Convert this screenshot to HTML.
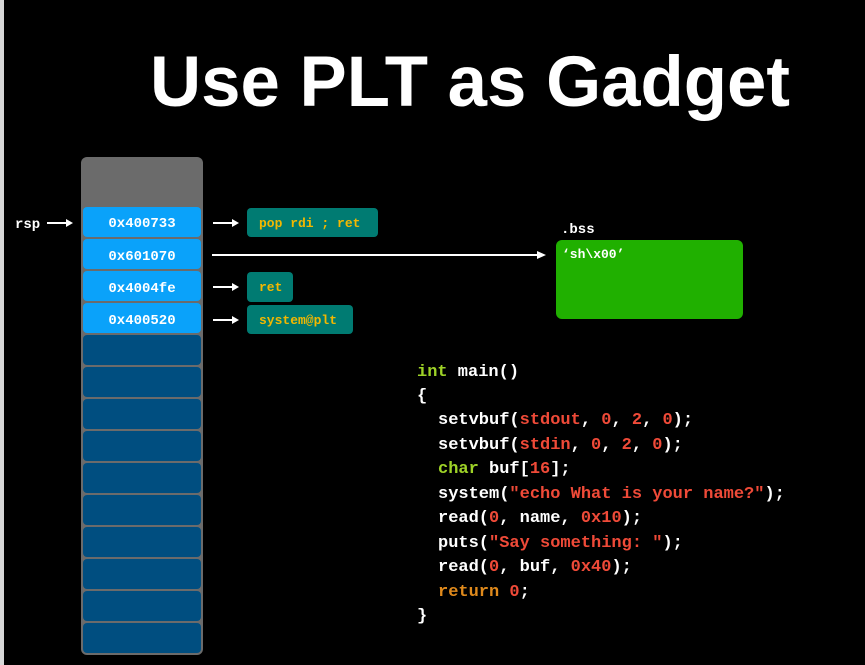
<!DOCTYPE html>
<html><head><meta charset="utf-8"><style>
html,body{margin:0;padding:0;background:#000;}
svg{display:block}
.m{font-family:"Liberation Mono","DejaVu Sans Mono",monospace;font-weight:bold}
</style></head><body>
<svg width="865" height="665" viewBox="0 0 865 665" xmlns="http://www.w3.org/2000/svg">
<rect width="865" height="665" fill="#000"/>
<rect x="0" y="0" width="4" height="665" fill="#d8d8d8"/>
<text x="150" y="106" font-family="Liberation Sans, sans-serif" font-weight="bold" font-size="71" fill="#fff" textLength="640" lengthAdjust="spacingAndGlyphs">Use PLT as Gadget</text>

<rect x="81" y="157" width="122" height="498" rx="6" fill="#6b6b6b"/>
<g fill="#0aa2fa">
<rect x="83" y="207" width="118" height="30" rx="4"/>
<rect x="83" y="239" width="118" height="30" rx="4"/>
<rect x="83" y="271" width="118" height="30" rx="4"/>
<rect x="83" y="303" width="118" height="30" rx="4"/>
</g>
<g fill="#004e80">
<rect x="83" y="335" width="118" height="30" rx="4"/>
<rect x="83" y="367" width="118" height="30" rx="4"/>
<rect x="83" y="399" width="118" height="30" rx="4"/>
<rect x="83" y="431" width="118" height="30" rx="4"/>
<rect x="83" y="463" width="118" height="30" rx="4"/>
<rect x="83" y="495" width="118" height="30" rx="4"/>
<rect x="83" y="527" width="118" height="30" rx="4"/>
<rect x="83" y="559" width="118" height="30" rx="4"/>
<rect x="83" y="591" width="118" height="30" rx="4"/>
<rect x="83" y="623" width="118" height="30" rx="4"/>
</g>
<g class="m" font-size="14" fill="#fff" text-anchor="middle">
<text x="142" y="227">0x400733</text>
<text x="142" y="260">0x601070</text>
<text x="142" y="292">0x4004fe</text>
<text x="142" y="324">0x400520</text>
</g>
<text class="m" x="15" y="228" font-size="14" fill="#fff">rsp</text>

<g stroke="#fff" stroke-width="2" fill="none">
<line x1="47" y1="223" x2="66" y2="223"/>
<line x1="213" y1="223" x2="232" y2="223"/>
<line x1="213" y1="287" x2="232" y2="287"/>
<line x1="213" y1="320" x2="232" y2="320"/>
<line x1="212" y1="255" x2="538" y2="255"/>
</g>
<g fill="#fff">
<polygon points="66,219 73,223 66,227"/>
<polygon points="232,219 239,223 232,227"/>
<polygon points="232,283 239,287 232,291"/>
<polygon points="232,316 239,320 232,324"/>
<polygon points="537,251 546,255 537,259"/>
</g>

<g fill="#007b72">
<rect x="247" y="208" width="131" height="29" rx="4"/>
<rect x="247" y="272" width="46" height="30" rx="4"/>
<rect x="247" y="305" width="106" height="29" rx="4"/>
</g>
<g class="m" font-size="13" fill="#f3b800">
<text x="259" y="227">pop rdi ; ret</text>
<text x="259" y="291">ret</text>
<text x="259" y="324">system@plt</text>
</g>

<text class="m" x="561" y="233" font-size="14" fill="#fff">.bss</text>
<rect x="556" y="240" width="187" height="79" rx="6" fill="#20b000"/>
<text class="m" x="562" y="258" font-size="13" fill="#fff">‘sh\x00’</text>

<g class="m" font-size="17" fill="#fff" style="white-space:pre">
<text x="417" y="376"><tspan fill="#9ed227">int</tspan> main()</text>
<text x="417" y="400">{</text>
<text x="438" y="424">setvbuf(<tspan fill="#ef4a38">stdout</tspan>, <tspan fill="#ef4a38">0</tspan>, <tspan fill="#ef4a38">2</tspan>, <tspan fill="#ef4a38">0</tspan>);</text>
<text x="438" y="449">setvbuf(<tspan fill="#ef4a38">stdin</tspan>, <tspan fill="#ef4a38">0</tspan>, <tspan fill="#ef4a38">2</tspan>, <tspan fill="#ef4a38">0</tspan>);</text>
<text x="438" y="473"><tspan fill="#9ed227">char</tspan> buf[<tspan fill="#ef4a38">16</tspan>];</text>
<text x="438" y="498">system(<tspan fill="#ef4a38">"echo What is your name?"</tspan>);</text>
<text x="438" y="522">read(<tspan fill="#ef4a38">0</tspan>, name, <tspan fill="#ef4a38">0x10</tspan>);</text>
<text x="438" y="547">puts(<tspan fill="#ef4a38">"Say something: "</tspan>);</text>
<text x="438" y="571">read(<tspan fill="#ef4a38">0</tspan>, buf, <tspan fill="#ef4a38">0x40</tspan>);</text>
<text x="438" y="596"><tspan fill="#e08a1c">return</tspan> <tspan fill="#ef4a38">0</tspan>;</text>
<text x="417" y="620">}</text>
</g>
</svg>
</body></html>
